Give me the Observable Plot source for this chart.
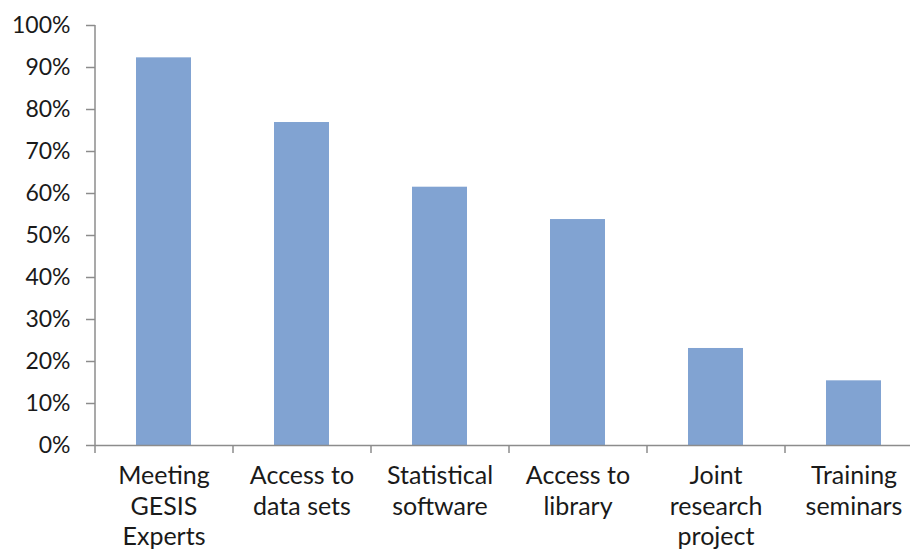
<!DOCTYPE html>
<html>
<head>
<meta charset="utf-8">
<script src="https://cdn.jsdelivr.net/npm/d3@7"></script>
<script src="https://cdn.jsdelivr.net/npm/@observablehq/plot@0.6"></script>
<style>
  html, body { margin: 0; padding: 0; background: #fff; }
  #chart svg { display: block; }
</style>
</head>
<body>
<div id="chart"></div>
<script>
const categories = [
  "Meeting\nGESIS\nExperts",
  "Access to\ndata sets",
  "Statistical\nsoftware",
  "Access to\nlibrary",
  "Joint\nresearch\nproject",
  "Training\nseminars"
];
const shares = [0.923, 0.769, 0.615, 0.538, 0.231, 0.154];
const yTicks = [0, 0.1, 0.2, 0.3, 0.4, 0.5, 0.6, 0.7, 0.8, 0.9, 1.0];

const data = categories.map((c, i) => ({category: c, value: shares[i]}));

const axisColor = "#8c8c8c";
const textColor = "#1a1a1a";

const chart = Plot.plot({
  width: 910,
  height: 552,
  marginLeft: 95,
  marginTop: 25,
  marginBottom: 107,
  marginRight: 0,
  style: {fontFamily: "Lato, 'Open Sans', sans-serif", color: textColor, background: "#fff"},
  x: {domain: categories, range: [95, 923], paddingInner: 0.6, paddingOuter: 0.3, label: null},
  y: {domain: [0, 1], label: null},
  marks: [
    Plot.barY(data, {x: "category", y: "value", fill: "#81a3d2"}),
    Plot.axisY({
      ticks: yTicks,
      tickFormat: d3.format(".0%"),
      tickSize: 9,
      tickPadding: 16,
      stroke: axisColor,
      strokeWidth: 1.5,
      strokeOpacity: 1,
      fill: textColor,
      fontSize: 23,
      label: null
    }),
    Plot.axisX({
      tickSize: 8,
      tickFormat: () => "",
      dx: -69,
      stroke: axisColor,
      strokeWidth: 1.5,
      strokeOpacity: 1,
      label: null
    }),
    Plot.axisX({
      tickSize: 0,
      tickPadding: 17,
      fill: textColor,
      fontSize: 25,
      lineHeight: 1.22,
      label: null
    }),
    Plot.ruleY([0], {stroke: axisColor, strokeWidth: 1.5}),
    Plot.ruleX([categories[0]], {x: d => d, dx: -69, y1: 0, y2: 1, stroke: axisColor, strokeWidth: 1.5})
  ]
});
document.getElementById("chart").appendChild(chart);
</script>
</body>
</html>
